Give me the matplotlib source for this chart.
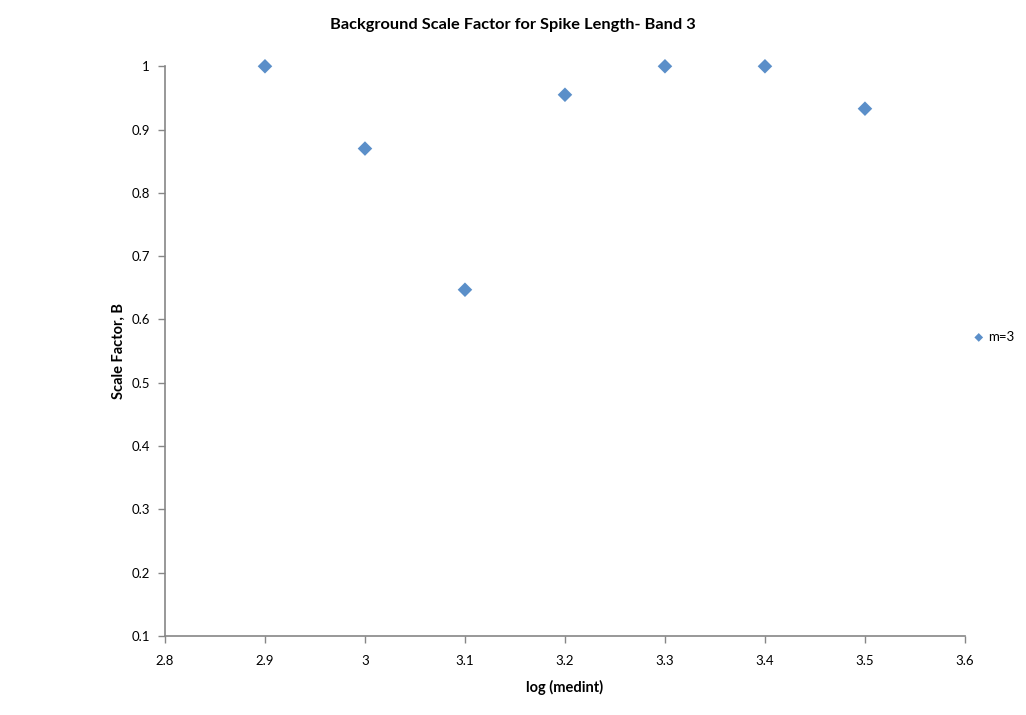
import numpy as np
import matplotlib
matplotlib.use("Agg")
import matplotlib.pyplot as plt

plt.rcParams['font.family'] = ['Lato', 'DejaVu Sans']

log_medint = [2.9, 3.0, 3.1, 3.2, 3.3, 3.4, 3.5]
scale_factor = [1.0, 0.870, 0.647, 0.955, 1.0, 1.0, 0.933]

fig = plt.figure(figsize=(10.26, 7.15), dpi=100)
ax = fig.add_axes([0.1608, 0.1105, 0.7797, 0.7968])

ax.scatter(log_medint, scale_factor, marker='D', s=55, color='#5B8FC9',
           edgecolors='none', label='m=3', clip_on=False, zorder=3)

ax.set_xlim(2.8, 3.6)
ax.set_ylim(0.1, 1.0)
ax.set_xticks(np.arange(2.8, 3.61, 0.1))
ax.set_xticklabels(['2.8', '2.9', '3', '3.1', '3.2', '3.3', '3.4', '3.5', '3.6'])
ax.set_yticks(np.arange(0.1, 1.01, 0.1))
ax.set_yticklabels(['0.1', '0.2', '0.3', '0.4', '0.5', '0.6', '0.7', '0.8', '0.9', '1'])

for s in ['top', 'right']:
    ax.spines[s].set_visible(False)
for s in ['left', 'bottom']:
    ax.spines[s].set_color('#868686')
    ax.spines[s].set_linewidth(1.2)
ax.tick_params(direction='out', length=5, width=1, color='#868686',
               labelsize=9.5, pad=6)
ax.tick_params(axis='x', pad=9)

ax.set_xlabel('log (medint)', fontsize=10.5, fontweight='bold', labelpad=9)
ax.set_ylabel('Scale Factor, B', fontsize=10.5, fontweight='bold', labelpad=4)
fig.suptitle('Background Scale Factor for Spike Length- Band 3', fontsize=11.8,
             fontweight='bold', y=0.975)

ax.legend(loc='center left', bbox_to_anchor=(1.009, 0.525), frameon=False,
          fontsize=9.5, handletextpad=0.2, handlelength=1.0, borderpad=0,
          borderaxespad=0, markerscale=0.6)

fig.savefig('out.png', dpi=100)
